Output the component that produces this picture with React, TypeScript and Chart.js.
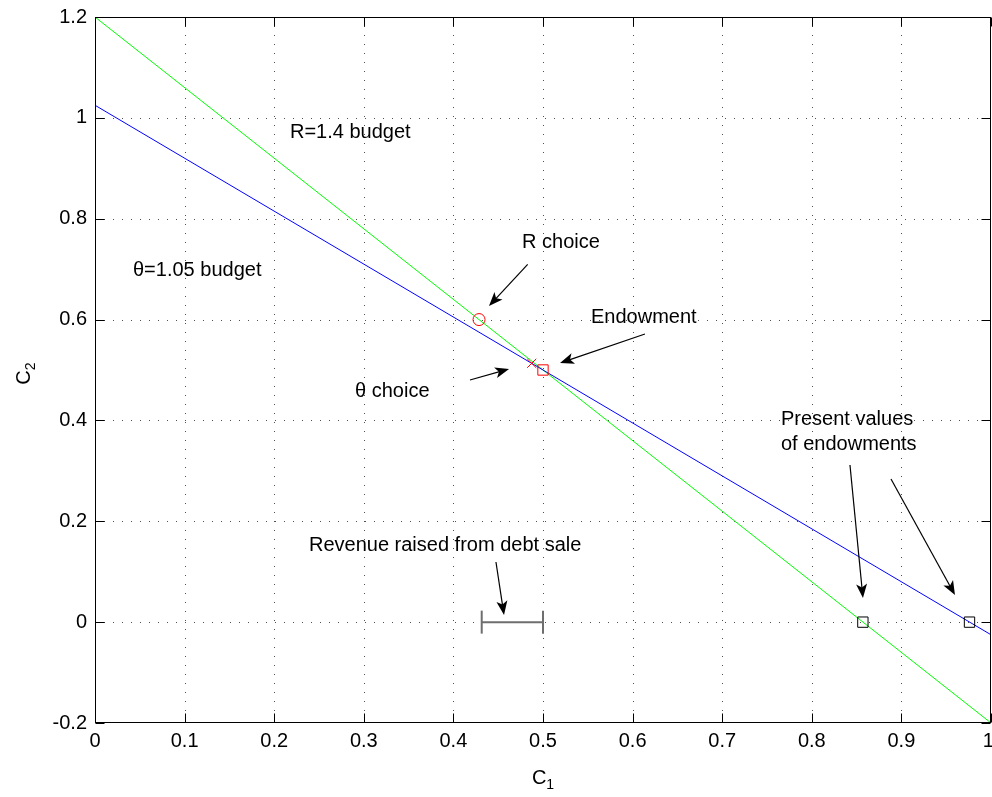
import { useEffect, useRef } from 'react';
import { Chart, registerables } from 'chart.js';

Chart.register(...registerables);

// ---- data ----
const c1Ends = [0, 1];
const rBudget = [1.2, -0.2];
const thetaBudget = [1.025, -0.025];
const rChoice = [0.4286, 0.6];
const thetaChoice = [0.4874, 0.5133];
const endowment = [0.5, 0.5];
const pvX = [0.857, 0.976];
const pvY = [0, 0];
const revenueX = [0.4316, 0.5];
const revenueY = [0, 0];

const xTicks = [0, 0.1, 0.2, 0.3, 0.4, 0.5, 0.6, 0.7, 0.8, 0.9, 1];
const xTickLabels = ['0', '0.1', '0.2', '0.3', '0.4', '0.5', '0.6', '0.7', '0.8', '0.9', '1'];
const yTicks = [-0.2, 0, 0.2, 0.4, 0.6, 0.8, 1, 1.2];
const yTickLabels = ['-0.2', '0', '0.2', '0.4', '0.6', '0.8', '1', '1.2'];

// annotations (data coordinates)
const noteTexts = ['R=1.4 budget', 'θ=1.05 budget', 'R choice', 'Endowment', 'θ choice', 'Present values', 'of endowments', 'Revenue raised from debt sale'];
const noteX = [0.2176, 0.0424, 0.4766, 0.5536, 0.2902, 0.7656, 0.7656, 0.2388];
const noteY = [0.9719, 0.6983, 0.7538, 0.6051, 0.4583, 0.4028, 0.3532, 0.1530];

const arrowTailX = [0.4829, 0.6138, 0.4185, 0.4475, 0.8426, 0.8884];
const arrowTailY = [0.7096, 0.5714, 0.4802, 0.1193, 0.3116, 0.2838];
const arrowHeadX = [0.4397, 0.5190, 0.4621, 0.4565, 0.8571, 0.9598];
const arrowHeadY = [0.6269, 0.5139, 0.5020, 0.0142, 0.0479, 0.0538];

const FONT = '"Liberation Sans", Arial, Helvetica, sans-serif';

const decor = {
  id: 'decor',
  beforeDatasetsDraw(chart: any) {
    const { ctx, chartArea: a, scales } = chart;
    const x = scales.x, y = scales.y;
    ctx.save();
    ctx.strokeStyle = '#505050';
    ctx.lineWidth = 1;
    ctx.setLineDash([1, 8]);
    xTicks.forEach((v, i) => {
      if (i === 0 || i === xTicks.length - 1) return;
      const px = Math.round(x.getPixelForValue(v)) + 0.5;
      ctx.beginPath();
      ctx.moveTo(px, a.top);
      ctx.lineTo(px, a.bottom);
      ctx.stroke();
    });
    yTicks.forEach((v, i) => {
      if (i === 0 || i === yTicks.length - 1) return;
      const py = Math.round(y.getPixelForValue(v)) + 0.5;
      ctx.beginPath();
      ctx.moveTo(a.left, py);
      ctx.lineTo(a.right, py);
      ctx.stroke();
    });
    ctx.restore();
  },
  afterDatasetsDraw(chart: any) {
    const { ctx, chartArea: a, scales } = chart;
    const x = scales.x, y = scales.y;
    ctx.save();
    // box
    const L = Math.round(a.left) + 0.5, R = Math.round(a.right) - 0.5;
    const T = Math.round(a.top) + 0.5, B = Math.round(a.bottom) - 0.5;
    ctx.strokeStyle = '#000';
    ctx.lineWidth = 1;
    ctx.setLineDash([]);
    ctx.strokeRect(L, T, R - L, B - T);
    // inner ticks
    const tl = 9;
    ctx.beginPath();
    xTicks.forEach((v) => {
      const px = Math.round(x.getPixelForValue(v)) + 0.5;
      ctx.moveTo(px, B); ctx.lineTo(px, B - tl);
      ctx.moveTo(px, T); ctx.lineTo(px, T + tl);
    });
    yTicks.forEach((v) => {
      const py = Math.round(y.getPixelForValue(v)) + 0.5;
      ctx.moveTo(L, py); ctx.lineTo(L + tl, py);
      ctx.moveTo(R, py); ctx.lineTo(R - tl, py);
    });
    ctx.stroke();

    // arrows
    ctx.fillStyle = '#000';
    ctx.lineWidth = 1.2;
    for (let i = 0; i < arrowTailX.length; i++) {
      const tx = x.getPixelForValue(arrowTailX[i]);
      const ty = y.getPixelForValue(arrowTailY[i]);
      const hx = x.getPixelForValue(arrowHeadX[i]);
      const hy = y.getPixelForValue(arrowHeadY[i]);
      const dx = hx - tx, dy = hy - ty;
      const len = Math.hypot(dx, dy);
      const ux = dx / len, uy = dy / len;
      const nx = -uy, ny = ux;
      const HL = 14, HW = 5.5;
      ctx.beginPath();
      ctx.moveTo(tx, ty);
      ctx.lineTo(hx - ux * HL * 0.7, hy - uy * HL * 0.7);
      ctx.stroke();
      ctx.beginPath();
      ctx.moveTo(hx, hy);
      ctx.lineTo(hx - ux * HL + nx * HW, hy - uy * HL + ny * HW);
      ctx.lineTo(hx - ux * HL * 0.75, hy - uy * HL * 0.75);
      ctx.lineTo(hx - ux * HL - nx * HW, hy - uy * HL - ny * HW);
      ctx.closePath();
      ctx.fill();
    }

    // notes
    ctx.font = `20px ${FONT}`;
    ctx.textAlign = 'left';
    ctx.textBaseline = 'middle';
    ctx.fillStyle = '#000';
    noteTexts.forEach((t, i) => {
      ctx.fillText(t, x.getPixelForValue(noteX[i]), y.getPixelForValue(noteY[i]));
    });

    // axis labels
    const cx = (a.left + a.right) / 2;
    ctx.font = `20px ${FONT}`;
    const wC = ctx.measureText('C').width;
    ctx.font = `14px ${FONT}`;
    const w1 = ctx.measureText('1').width;
    const startX = cx - (wC + w1) / 2;
    ctx.font = `20px ${FONT}`;
    ctx.fillText('C', startX, 778);
    ctx.font = `14px ${FONT}`;
    ctx.fillText('1', startX + wC, 785);

    ctx.translate(24.5, 377.5);
    ctx.rotate(-Math.PI / 2);
    ctx.font = `20px ${FONT}`;
    ctx.textAlign = 'center';
    ctx.fillText('C', 0, 0);
    ctx.font = `14px ${FONT}`;
    ctx.textAlign = 'left';
    ctx.fillText('2', wC / 2, 6.5);
    ctx.restore();
  },
};

export default function App() {
  const ref = useRef<HTMLCanvasElement>(null);
  useEffect(() => {
    const tickFont = { family: FONT, size: 20 };
    const chart = new Chart(ref.current as HTMLCanvasElement, {
      type: 'scatter',
      data: {
        datasets: [
          {
            label: 'R choice',
            data: [{ x: rChoice[0], y: rChoice[1] }],
            pointStyle: 'circle',
            pointRadius: 6,
            pointBorderColor: '#ff0000',
            pointBackgroundColor: 'rgba(0,0,0,0)',
            pointBorderWidth: 1,
          },
          {
            label: 'theta choice',
            data: [{ x: thetaChoice[0], y: thetaChoice[1] }],
            pointStyle: 'crossRot',
            pointRadius: 6.4,
            pointBorderColor: '#ff0000',
            pointBorderWidth: 1,
          },
          {
            label: 'Endowment',
            data: [{ x: endowment[0], y: endowment[1] }],
            pointStyle: 'rect',
            pointRadius: 7.3,
            pointBorderColor: '#ff0000',
            pointBackgroundColor: 'rgba(0,0,0,0)',
            pointBorderWidth: 1,
          },
          {
            label: 'Present values',
            data: pvX.map((v, i) => ({ x: v, y: pvY[i] })),
            pointStyle: 'rect',
            pointRadius: 7.3,
            pointBorderColor: '#000000',
            pointBackgroundColor: 'rgba(0,0,0,0)',
            pointBorderWidth: 1,
          },
          {
            label: 'Revenue',
            data: revenueX.map((v, i) => ({ x: v, y: revenueY[i] })),
            showLine: true,
            borderColor: '#6e6e6e',
            borderWidth: 2,
            pointStyle: 'line',
            pointRotation: 90,
            pointRadius: 11.5,
            pointBorderColor: '#6e6e6e',
            pointBorderWidth: 2,
          },
          {
            label: 'theta=1.05 budget',
            data: c1Ends.map((v, i) => ({ x: v, y: thetaBudget[i] })),
            showLine: true,
            borderColor: '#0000ff',
            borderWidth: 1,
            pointRadius: 0,
          },
          {
            label: 'R=1.4 budget',
            data: c1Ends.map((v, i) => ({ x: v, y: rBudget[i] })),
            showLine: true,
            borderColor: '#00ff00',
            borderWidth: 1,
            pointRadius: 0,
          },
        ],
      },
      options: {
        responsive: true,
        maintainAspectRatio: false,
        animation: false,
        events: [],
        layout: { autoPadding: false, padding: { top: 17, right: 1, left: 0, bottom: 0 } },
        plugins: { legend: { display: false }, tooltip: { enabled: false } },
        scales: {
          x: {
            type: 'linear',
            min: 0,
            max: 1,
            afterBuildTicks: (s: any) => { s.ticks = xTicks.map((v) => ({ value: v })); },
            afterFit: (s: any) => { s.height = 74; s.paddingLeft = 0; s.paddingRight = 0; },
            grid: { display: false, drawTicks: false },
            border: { display: false },
            ticks: {
              callback: (_v: any, i: number) => (i === xTickLabels.length - 1 ? xTickLabels[i] + ' ' : xTickLabels[i]),
              font: tickFont,
              color: '#000',
              padding: 6,
              maxRotation: 0,
              autoSkip: false,
            },
          },
          y: {
            type: 'linear',
            min: -0.2,
            max: 1.2,
            afterBuildTicks: (s: any) => { s.ticks = yTicks.map((v) => ({ value: v })); },
            afterFit: (s: any) => { s.width = 95; s.paddingTop = 0; s.paddingBottom = 0; },
            grid: { display: false, drawTicks: false },
            border: { display: false },
            ticks: {
              callback: (_v: any, i: number) => yTickLabels[i],
              font: tickFont,
              color: '#000',
              padding: 8,
              autoSkip: false,
            },
          },
        },
      },
      plugins: [decor],
    } as any);
    return () => chart.destroy();
  }, []);
  return (
    <div style={{ position: 'absolute', left: 0, top: 0, width: 992, height: 797, background: '#fff' }}>
      <canvas ref={ref} />
    </div>
  );
}
